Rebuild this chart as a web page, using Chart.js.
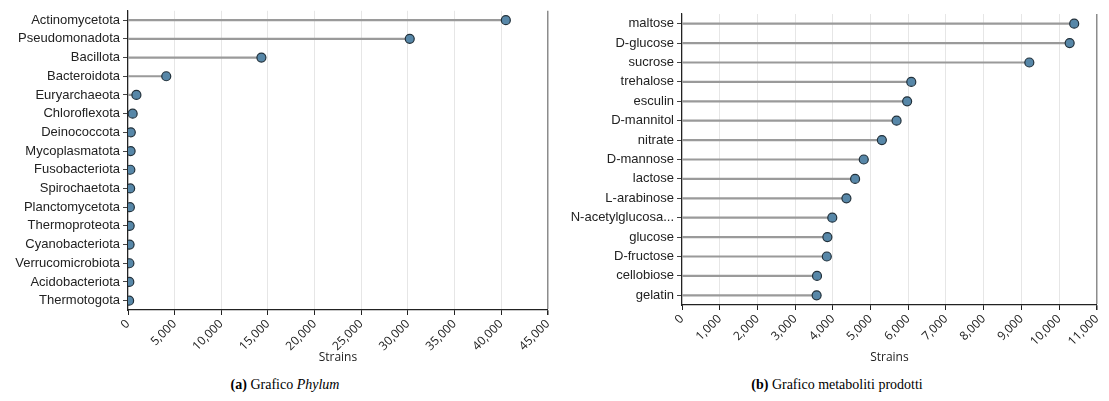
<!DOCTYPE html>
<html>
<head>
<meta charset="utf-8">
<script src="https://cdn.jsdelivr.net/npm/chart.js@4.4.1/dist/chart.umd.min.js"></script>
<style>
  html, body { margin: 0; padding: 0; background: #fff; }
  body { width: 1109px; height: 401px; position: relative; overflow: hidden; }
  .wrap { position: absolute; top: 0; }
  .cap { position: absolute; top: 377px; font-family: "Liberation Serif", "Times New Roman", serif; font-size: 14px; color: #000; text-align: center; white-space: nowrap; }
</style>
</head>
<body>
<div class="wrap" style="left:0px;width:560px;height:365px;"><canvas id="c1"></canvas></div>
<div class="wrap" style="left:560px;width:549px;height:365px;"><canvas id="c2"></canvas></div>
<div class="cap" style="left:85px;width:400px;"><b>(a)</b> Grafico <i>Phylum</i></div>
<div class="cap" style="left:637px;width:400px;"><b>(b)</b> Grafico metaboliti prodotti</div>
<script>
// ---- Data ----
const phylumLabels = ["Actinomycetota","Pseudomonadota","Bacillota","Bacteroidota","Euryarchaeota","Chloroflexota","Deinococcota","Mycoplasmatota","Fusobacteriota","Spirochaetota","Planctomycetota","Thermoproteota","Cyanobacteriota","Verrucomicrobiota","Acidobacteriota","Thermotogota"];
const phylumValues = [40500, 30200, 14300, 4100, 900, 500, 300, 280, 250, 230, 200, 180, 170, 150, 140, 120];
const phylumMax = 45000;
const phylumStep = 5000;

const metabLabels = ["maltose","D-glucose","sucrose","trehalose","esculin","D-mannitol","nitrate","D-mannose","lactose","L-arabinose","N-acetylglucosa...","glucose","D-fructose","cellobiose","gelatin"];
const metabValues = [10400, 10280, 9210, 6080, 5970, 5690, 5300, 4820, 4590, 4360, 3985, 3855, 3840, 3580, 3570];
const metabMax = 11000;
const metabStep = 1000;

const axisTitle = "Strains";

// ---- Styles ----
const DOT_FILL = '#5787a8';
const DOT_BORDER = '#22313b';
const STEM = '#9a9a9a';

function makeChart(id, labels, values, max, step, yWidth, xHeight, pad) {
  const ctx = document.getElementById(id);
  return new Chart(ctx, {
    type: 'bar',
    data: {
      labels: labels,
      datasets: [
        {
          type: 'bar',
          data: values,
          backgroundColor: STEM,
          borderWidth: 0,
          barThickness: 1.5,
          order: 2
        },
        {
          type: 'line',
          indexAxis: 'y',
          data: values,
          showLine: false,
          pointRadius: 4.5,
          pointBackgroundColor: DOT_FILL,
          pointBorderColor: DOT_BORDER,
          pointBorderWidth: 1.2,
          order: 1
        }
      ]
    },
    options: {
      indexAxis: 'y',
      responsive: true,
      maintainAspectRatio: false,
      animation: false,
      locale: 'en-US',
      layout: { padding: pad },
      plugins: { legend: { display: false }, tooltip: { enabled: false } },
      scales: {
        x: {
          type: 'linear',
          min: 0,
          max: max,
          ticks: {
            stepSize: step,
            minRotation: 45,
            maxRotation: 45,
            padding: 2,
            color: '#222',
            font: { family: 'Open Sans, DejaVu Sans, sans-serif', size: 12 }
          },
          grid: {
            color: (c) => (c.tick && c.tick.value === max) ? '#8c8c8c' : '#e6e6e6',
            lineWidth: (c) => (c.tick && c.tick.value === max) ? 1.5 : 1,
            tickColor: '#222',
            tickLength: 5,
            drawTicks: true
          },
          border: { display: true, color: '#222', width: 1.2 },
          title: {
            display: true,
            text: axisTitle,
            color: '#222',
            padding: { top: -9, bottom: 0 },
            font: { family: 'Open Sans, DejaVu Sans, sans-serif', size: 12 }
          },
          afterFit: (s) => { s.height = xHeight; }
        },
        y: {
          ticks: {
            color: '#222',
            padding: 3,
            autoSkip: false,
            font: { family: 'Liberation Sans, Arial, sans-serif', size: 13 }
          },
          grid: {
            display: true,
            offset: false,
            drawOnChartArea: false,
            tickColor: '#444',
            tickLength: 5
          },
          border: { display: true, color: '#222', width: 1.2 },
          afterFit: (s) => { s.width = yWidth; }
        }
      }
    }
  });
}

makeChart('c1', phylumLabels, phylumValues, phylumMax, phylumStep, 128, 55, { top: 10, right: 10, left: 0, bottom: 0 });
makeChart('c2', metabLabels, metabValues, metabMax, metabStep, 122, 60, { top: 14, right: 1, left: 0, bottom: 0 });
</script>
</body>
</html>
